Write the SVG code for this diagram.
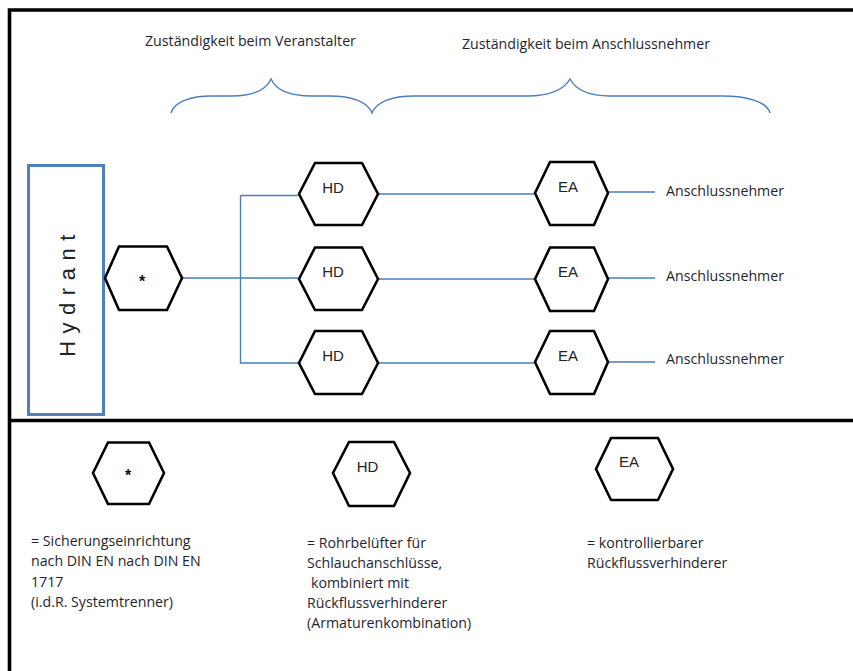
<svg xmlns="http://www.w3.org/2000/svg" width="853" height="671" viewBox="0 0 853 671">
<style>
.hex{fill:#fff;stroke:#000;stroke-width:2.6;stroke-linejoin:miter}
.con{fill:none;stroke:#4a7ebb;stroke-width:1.4}
.frame{fill:none;stroke:#000;stroke-width:3.6}
.c{font-family:"Open Sans","Noto Sans",sans-serif;font-size:14.2px;fill:#1f2530}
.a{font-family:"Liberation Sans",Arial,sans-serif;font-size:15px;fill:#222}
.s{font-family:"Liberation Sans",Arial,sans-serif;font-size:16px;fill:#111;font-weight:bold}
</style>
<rect width="853" height="671" fill="#fff"/>
<g id="frame">
<path class="frame" d="M853 10H9.500V671"/>
<path class="frame" d="M9.500 420.500H853"/>
</g>
<g id="connectors">
<path class="con" d="M171 113C174 102 190 96 212 96H232C252 96 266 90 271 79C276 90 290 96 312 96H330C352 96 368 102 372 113C376 102 392 96 414 96H528C548 96 564 90 570 79C576 90 590 96 610 96H722C748 96 767 102 770 113"/>
<path class="con" d="M183 278H298M240.500 195.500V363H298M240.500 195.500H298"/>
<path class="con" d="M378 194H534M378 279H534M378 363H534"/>
<path class="con" d="M608 192H655M608 278H655M608 362H655"/>
</g>
<g id="hydrant">
<rect x="28.500" y="165.500" width="75" height="249" fill="#fff" stroke="#4f81bd" stroke-width="3"/>
<text transform="translate(75 292) rotate(-90)" text-anchor="middle" font-family="'Liberation Sans',Arial,sans-serif" font-size="22" letter-spacing="7.500" fill="#222">Hydrant</text>
</g>
<g id="star-main"><polygon class="hex" points="105,278 119,246.500 167,246.500 182,278 167,310 119,310"/><text class="s" x="142" y="287" text-anchor="middle">*</text></g>
<g id="hd-1"><polygon class="hex" points="299,194 315,163 362,163 378,194 362,225 315,225"/><text class="a" x="333" y="193" text-anchor="middle">HD</text></g>
<g id="hd-2"><polygon class="hex" points="299,279 315,247.500 362,247.500 378,279 362,310 315,310"/><text class="a" x="333" y="277" text-anchor="middle">HD</text></g>
<g id="hd-3"><polygon class="hex" points="299,363 315,331 362,331 378,363 362,394 315,394"/><text class="a" x="333" y="361" text-anchor="middle">HD</text></g>
<g id="ea-1"><polygon class="hex" points="535,193 550,162 594,162 608,193 594,225 550,225"/><text class="a" x="568" y="192" text-anchor="middle">EA</text></g>
<g id="ea-2"><polygon class="hex" points="535,279 550,247.500 594,247.500 608,279 594,311 550,311"/><text class="a" x="568" y="277" text-anchor="middle">EA</text></g>
<g id="ea-3"><polygon class="hex" points="535,362 550,331 594,331 608,362 594,394 550,394"/><text class="a" x="568" y="361" text-anchor="middle">EA</text></g>
<g id="titles">
<text class="c" x="145" y="46">Zuständigkeit beim Veranstalter</text>
<text class="c" x="462" y="49">Zuständigkeit beim Anschlussnehmer</text>
</g>
<g id="receivers">
<text class="c" x="666" y="196">Anschlussnehmer</text>
<text class="c" x="666" y="281">Anschlussnehmer</text>
<text class="c" x="666" y="364">Anschlussnehmer</text>
</g>
<g id="legend-star"><polygon class="hex" points="93,473 108,442.500 149,442.500 164,473 149,504 108,504"/><text class="s" x="128" y="481" text-anchor="middle">*</text>
<text class="c"><tspan x="31" y="546">= Sicherungseinrichtung</tspan><tspan x="31" y="566">nach DIN EN nach DIN EN</tspan><tspan x="31" y="587">1717</tspan><tspan x="31" y="607">(i.d.R. Systemtrenner)</tspan></text></g>
<g id="legend-hd"><polygon class="hex" points="333,473 349,442 394,442 410,473 394,506 349,506"/><text class="a" x="367.500" y="472" text-anchor="middle">HD</text>
<text class="c"><tspan x="307" y="548">= Rohrbelüfter für</tspan><tspan x="307" y="568">Schlauchanschlüsse,</tspan><tspan x="311" y="588">kombiniert mit</tspan><tspan x="307" y="608">Rückflussverhinderer</tspan><tspan x="307" y="628">(Armaturenkombination)</tspan></text></g>
<g id="legend-ea"><polygon class="hex" points="596,469 611,438 658,438 673,469 658,500 611,500"/><text class="a" x="629" y="467" text-anchor="middle">EA</text>
<text class="c"><tspan x="587" y="548">= kontrollierbarer</tspan><tspan x="587" y="568">Rückflussverhinderer</tspan></text></g>
</svg>
